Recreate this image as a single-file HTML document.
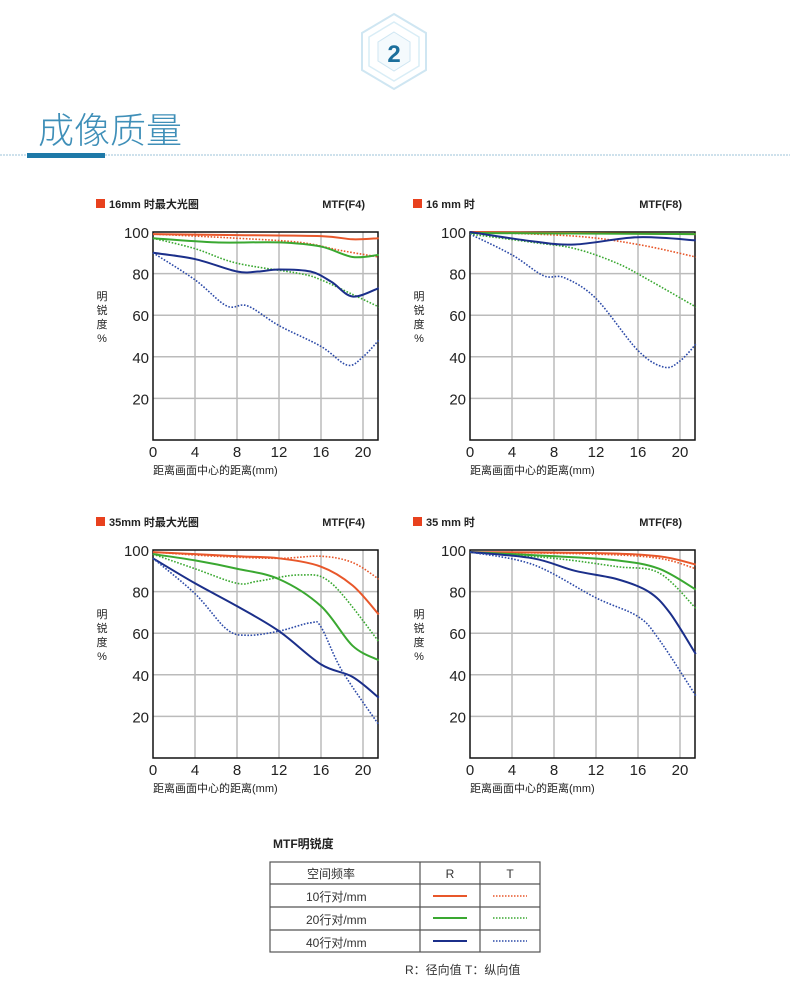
<!DOCTYPE html><html><head><meta charset="utf-8"><style>
body{margin:0;width:790px;height:982px;background:#fff;overflow:hidden;font-family:"Liberation Sans","Noto Sans CJK SC",sans-serif;}
</style></head><body>
<svg id="s" width="790" height="982" xmlns="http://www.w3.org/2000/svg" font-family="Liberation Sans, Noto Sans CJK SC, sans-serif">
<g>
<polygon points="394,14 426,33 426,70 394,89 362,70 362,33" fill="none" stroke="#cfe6f2" stroke-width="2"/>
<polygon points="394,22 419,37 419,66 394,81 369,66 369,37" fill="none" stroke="#d9edf6" stroke-width="1.5"/>
<polygon points="394,32 410,42 410,61 394,71 378,61 378,42" fill="#f4fafd" stroke="#cfe6f2"/>
<text x="394" y="62" font-size="24" font-weight="bold" fill="#1c6f9c" text-anchor="middle">2</text>
</g>
<text x="38" y="143" font-size="36" fill="#3f8fb8" font-weight="300">成像质量</text>
<line x1="0" y1="155" x2="790" y2="155" stroke="#9cc3d8" stroke-dasharray="2,1"/>
<rect x="27" y="153" width="78" height="5" fill="#1e79a8"/>
<g id="charts"></g>
<text x="273" y="848" font-size="12" font-weight="bold" fill="#222">MTF明锐度</text>
<g stroke="#555" stroke-width="1.2" fill="none">
<rect x="270" y="862" width="270" height="90"/>
<line x1="270" y1="884" x2="540" y2="884"/><line x1="270" y1="907" x2="540" y2="907"/><line x1="270" y1="930" x2="540" y2="930"/>
<line x1="420" y1="862" x2="420" y2="952"/><line x1="480" y1="862" x2="480" y2="952"/>
</g>
<g font-size="12" fill="#333">
<text x="307" y="878">空间频率</text><text x="450" y="878" text-anchor="middle">R</text><text x="510" y="878" text-anchor="middle">T</text>
<text x="306" y="901">10行对/mm</text><text x="306" y="924">20行对/mm</text><text x="306" y="947">40行对/mm</text>
<text x="405" y="974">R：径向值  T：纵向值</text>
</g>
<g stroke-width="2">
<line x1="433" y1="896" x2="467" y2="896" stroke="#e8572a"/><line x1="493" y1="896" x2="527" y2="896" stroke="#e8572a" stroke-dasharray="1.5,1.5" stroke-width="1.5"/>
<line x1="433" y1="918" x2="467" y2="918" stroke="#3aa831"/><line x1="493" y1="918" x2="527" y2="918" stroke="#3aa831" stroke-dasharray="1.5,1.5" stroke-width="1.5"/>
<line x1="433" y1="941" x2="467" y2="941" stroke="#1b2f8a"/><line x1="493" y1="941" x2="527" y2="941" stroke="#2c4aa8" stroke-dasharray="1.5,1.5" stroke-width="1.5"/>
</g>
</svg>
<script>
var NS="http://www.w3.org/2000/svg",G=document.getElementById("charts");
function el(t,a,txt){var e=document.createElementNS(NS,t);for(var k in a)e.setAttribute(k,a[k]);if(txt)e.textContent=txt;G.appendChild(e);return e;}
var charts=[
{x0:153,y0:232,t:"16mm 时最大光圈",m:"MTF(F4)",d:[
[[0,99],[8,98.5],[16,98],[19,96.5],[21.5,97]],
[[0,99],[8,97],[14,95],[18,91],[21.5,88]],
[[0,97],[6,95],[12,95],[16,93],[19,88],[21.5,89]],
[[0,97],[4,92],[8,85],[14,80],[16,77],[19,70],[21.5,64]],
[[0,90],[4,87],[8,81],[10,81],[12,82],[15,81],[17,76],[19,69],[21.5,73]],
[[0,90],[4,77],[7,64.5],[9,64.5],[12,55],[16,45],[18.5,36],[20,40],[21.5,48]]]},
{x0:470,y0:232,t:"16 mm 时",m:"MTF(F8)",d:[
[[0,100],[10,99.5],[21.5,99]],
[[0,100],[10,98],[16,94],[21.5,88]],
[[0,99.5],[10,99.3],[21.5,99]],
[[0,99],[6,95],[10,92],[14,85],[17,77],[21.5,64]],
[[0,100],[6,95.5],[10,94],[16,97.5],[21.5,96]],
[[0,99],[4,89],[7,79],[9,78],[12,68],[16,43],[18.5,35],[20,38],[21.5,46]]]},
{x0:153,y0:550,t:"35mm 时最大光圈",m:"MTF(F4)",d:[
[[0,99],[8,97],[12,96],[16,92],[19,83],[21.5,69]],
[[0,99],[6,97],[12,96],[16,97],[19,94],[21.5,86]],
[[0,98],[4,95],[8,91],[12,86],[16,73],[19,54],[21.5,47]],
[[0,98],[4,91],[8,84],[10,85],[14,88],[17,84],[21.5,56]],
[[0,96],[4,84],[8,73],[12,61],[16,45],[19,39],[21.5,29]],
[[0,96],[4,79],[7,62],[9,59],[12,61],[15,65],[16,63],[18,42],[21.5,16]]]},
{x0:470,y0:550,t:"35 mm 时",m:"MTF(F8)",d:[
[[0,99],[12,98.5],[18,97],[21.5,93]],
[[0,99],[12,98],[18,96],[21.5,91]],
[[0,99],[8,97],[14,95],[18,91],[21.5,81]],
[[0,99],[8,96],[14,92],[18,89],[21.5,72]],
[[0,99],[6,96],[10,90],[14,86],[17,80],[19,70],[21.5,50]],
[[0,99],[6,93],[12,77],[16,68],[18,57],[21.5,30]]]}];
var cols=["#e8572a","#e8572a","#3aa831","#3aa831","#1b2f8a","#2c4aa8"];
charts.forEach(function(c){
 var X=function(v){return c.x0+v*10.5},Y=function(v){return c.y0+(100-v)*2.08};
 var W=225,H=208;
 el("rect",{x:c.x0-57,y:c.y0-33,width:9,height:9,fill:"#e8411e"});
 el("text",{x:c.x0-44,y:c.y0-24,"font-size":11,"font-weight":"bold",fill:"#222"},c.t);
 el("text",{x:c.x0+212,y:c.y0-24,"font-size":11,"font-weight":"bold",fill:"#222","text-anchor":"end"},c.m);
 for(var i=1;i<=5;i++){el("line",{x1:X(i*4),y1:c.y0,x2:X(i*4),y2:c.y0+H,stroke:"#bbb","stroke-width":1.5});}
 for(var j=1;j<=4;j++){el("line",{x1:c.x0,y1:Y(j*20),x2:c.x0+W,y2:Y(j*20),stroke:"#bbb","stroke-width":1.5});}
 el("rect",{x:c.x0,y:c.y0,width:W,height:H,fill:"none",stroke:"#111","stroke-width":1.5});
 for(var j=1;j<=5;j++)el("text",{x:c.x0-4,y:Y(j*20)+6,"font-size":15,fill:"#222","text-anchor":"end"},String(j*20));
 for(var i=0;i<=5;i++)el("text",{x:X(i*4),y:c.y0+H+17,"font-size":15,fill:"#222","text-anchor":"middle"},String(i*4));
 el("text",{x:c.x0,y:c.y0+H+34,"font-size":11,fill:"#222"},"距离画面中心的距离(mm)");
 ["明","锐","度","%"].forEach(function(ch,k){el("text",{x:c.x0-51,y:c.y0+68+k*14,"font-size":11,fill:"#222","text-anchor":"middle"},ch);});
 c.d.forEach(function(pts,k){
  var p=pts.map(function(q){return [X(q[0]),Y(q[1])]});
  var d="M"+p[0][0]+","+p[0][1];
  for(var i=0;i<p.length-1;i++){var p0=p[i-1]||p[i],p1=p[i],p2=p[i+1],p3=p[i+2]||p2;
   d+=" C"+(p1[0]+(p2[0]-p0[0])/6)+","+(p1[1]+(p2[1]-p0[1])/6)+" "+(p2[0]-(p3[0]-p1[0])/6)+","+(p2[1]-(p3[1]-p1[1])/6)+" "+p2[0]+","+p2[1];}
  var a={d:d,fill:"none",stroke:cols[k],"stroke-width":k%2?1.6:2};
  if(k%2)a["stroke-dasharray"]="1.6,1.6";
  el("path",a);
 });
});
</script>
</body></html>
